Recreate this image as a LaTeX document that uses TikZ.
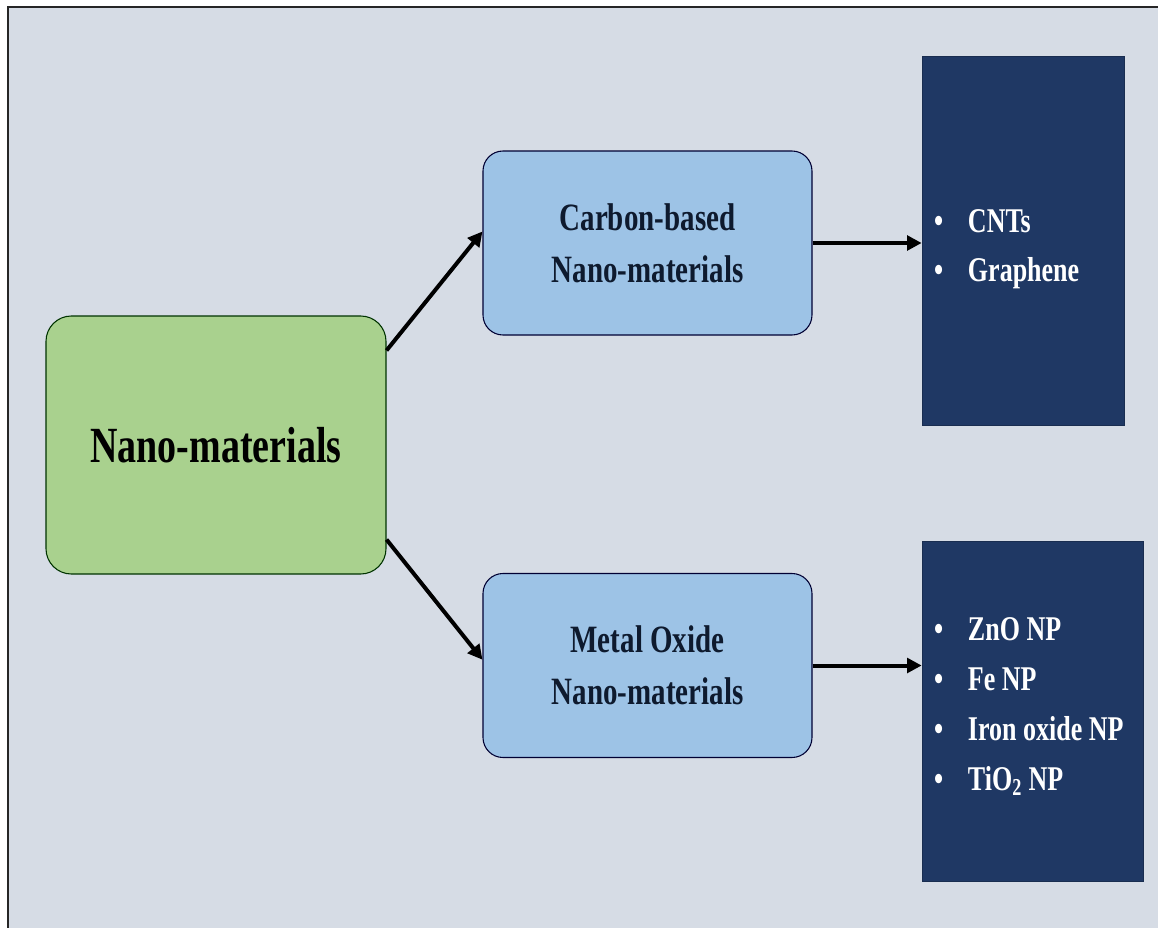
\documentclass[tikz,border=0pt]{standalone}
\usepackage{fontspec}
\newfontfamily\cond[FakeStretch=0.75]{Liberation Serif}
\usetikzlibrary{arrows.meta}
\definecolor{bgc}{HTML}{D6DCE5}
\definecolor{greenc}{HTML}{A9D18E}
\definecolor{bluec}{HTML}{9DC3E6}
\definecolor{navyc}{HTML}{1F3864}
\definecolor{txtc}{HTML}{0E1A2E}
\tikzset{
  rootbox/.style={draw=black!80!green, line width=0.8pt, fill=greenc, rounded corners=19pt,
    minimum width=255pt, minimum height=193.5pt, inner sep=0pt,
    font=\cond\bfseries\fontsize{38}{44}\selectfont, text=black},
  catbox/.style={draw=black!80!blue, line width=0.8pt, fill=bluec, rounded corners=15pt,
    minimum width=246.75pt, minimum height=138pt, inner sep=0pt, align=center,
    font=\cond\bfseries\fontsize{29}{39}\selectfont, text=txtc},
  listbox/.style={fill=navyc, draw=navyc!80!black, line width=0.5pt, inner xsep=9pt, inner ysep=0pt,
    text=white, font=\cond\bfseries\fontsize{26}{37}\selectfont},
  link/.style={line width=3pt, -{Triangle[length=11pt,width=11pt]}},
}
\newcommand{\bul}[1]{\mbox{\makebox[25.5pt][l]{\textbullet}#1}}
\newcommand{\listtext}[3]{\raisebox{#2}[\height][\depth]{\parbox{#1}{\raggedright #3}}}
\begin{document}
\begin{tikzpicture}[x=0.75pt,y=-0.75pt]
\useasboundingbox (0,0) rectangle (1158,928);
\fill[white] (0,0) rectangle (1158,928);
\fill[bgc] (8,7) rectangle (1158,928);
\draw[line width=2pt, black!85] (8,928) -- (8,7) -- (1158,7);

\node[rootbox] (root) at (216,445) {Nano-materials};
\node[catbox] (carbon) at (647.5,243) {Carbon-based\\Nano-materials};
\node[catbox] (metal) at (647.5,665.5) {Metal Oxide\\Nano-materials};
\node[listbox, minimum width=151.5pt, minimum height=276.75pt] (l1) at (1023,240.5)
  {\listtext{133.5pt}{-6.5pt}{\bul{CNTs}\\\bul{Graphene}}};
\node[listbox, minimum width=165.75pt, minimum height=255pt, font=\cond\bfseries\fontsize{26}{37.5}\selectfont] (l2) at (1032.5,711)
  {\listtext{147.75pt}{3.5pt}{\bul{ZnO NP}\\\bul{Fe NP}\\\bul{Iron oxide NP}\\\bul{TiO\textsubscript{2} NP}}};

\draw[link] (root.29.7) -- (carbon.176);
\draw[link] (root.-29.5) -- (metal.178);
\draw[link] (carbon.east) -- (carbon.east -| l1.west);
\draw[link] (metal.east) -- (metal.east -| l2.west);
\end{tikzpicture}
\end{document}
